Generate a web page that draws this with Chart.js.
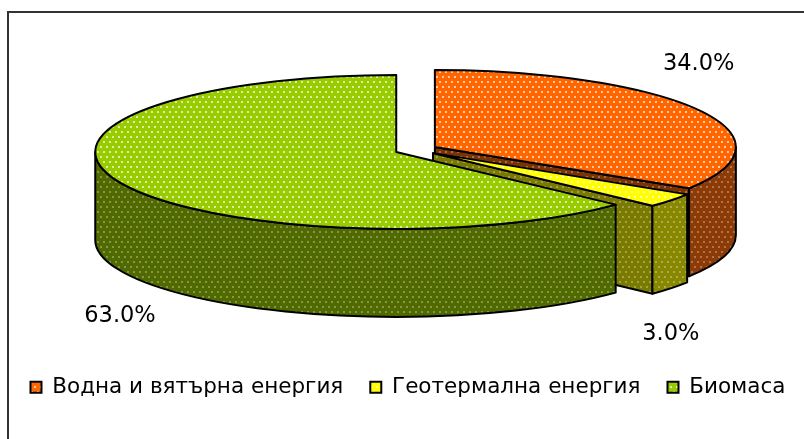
<!DOCTYPE html>
<html>
<head>
<meta charset="utf-8">
<script src="https://cdn.jsdelivr.net/npm/chart.js@4.4.1/dist/chart.umd.min.js"></script>
<style>
  html, body { margin: 0; padding: 0; background: #fff; overflow: hidden; width: 804px; height: 439px; }
  canvas { display: block; }
</style>
</head>
<body>
<!-- a bit wider than the window so the legend fits on one row; right strip is cut off -->
<canvas id="my-chart" width="816" height="439"></canvas>
<script>
// data
let categories = ['Водна и вятърна енергия', 'Геотермална енергия', 'Биомаса'];
let shares = [34.0, 3.0, 63.0];

// colours: top face, outer wall, cut face
let topColors = ['#ff6600', '#ffff00', '#99cc00'];
let wallColors = ['#8c3a06', '#888800', '#506a00'];
let faceColors = ['#7c3304', '#7a7a00', '#476000'];

// dotted fill like the office pattern
function dots(base, dot) {
    let c = document.createElement('canvas');
    c.width = 6;
    c.height = 10;
    let g = c.getContext('2d');
    g.fillStyle = base;
    g.fillRect(0, 0, 6, 10);
    g.fillStyle = dot;
    g.fillRect(1, 1, 2, 2);
    g.fillRect(4, 6, 2, 2);
    return g.createPattern(c, 'repeat');
}

let topFills = topColors.map(c => dots(c, 'rgba(255,255,255,0.65)'));
let wallFills = wallColors.map(c => dots(c, 'rgba(255,255,255,0.3)'));
let faceFills = faceColors.map(c => dots(c, 'rgba(255,255,255,0.3)'));

function shape(ctx, fill, build) {
    ctx.beginPath();
    build();
    ctx.closePath();
    ctx.fillStyle = fill;
    ctx.fill();
    ctx.stroke();
}

// frame round the chart
let frame = {
    id: 'frame',
    beforeDraw(chart) {
        let ctx = chart.ctx;
        ctx.save();
        ctx.strokeStyle = '#333';
        ctx.lineWidth = 2;
        ctx.strokeRect(8, 12, 1000, 1000);
        ctx.restore();
    }
};

// tilted pie drawn from the arcs chart.js lays out
let pie3d = {
    id: 'pie3d',
    beforeDatasetsDraw(chart, args, opts) {
        let ctx = chart.ctx;
        let arcs = chart.getDatasetMeta(0).data;
        let values = chart.data.datasets[0].data;
        let rx = opts.rx, ry = opts.ry, d = opts.depth;
        ctx.save();
        ctx.strokeStyle = '#000';
        ctx.lineWidth = 2;
        ctx.lineJoin = 'round';

        arcs.forEach((arc, i) => {
            let s = arc.startAngle, e = arc.endAngle;
            let mid = (s + e) / 2;
            let frac = arc.options.offset / arc.outerRadius;
            let cx = arc.x + opts.shiftX + Math.cos(mid) * frac * rx;
            let cy = arc.y + opts.shiftY + Math.sin(mid) * frac * ry;
            let px = a => cx + Math.cos(a) * rx;
            let py = a => cy + Math.sin(a) * ry;

            // cut face at the start angle
            if (Math.cos(s) < -1e-6) {
                shape(ctx, faceFills[i], () => {
                    ctx.moveTo(cx, cy);
                    ctx.lineTo(px(s), py(s));
                    ctx.lineTo(px(s), py(s) + d);
                    ctx.lineTo(cx, cy + d);
                });
            }
            // cut face at the end angle
            if (Math.cos(e) > 1e-6) {
                shape(ctx, faceFills[i], () => {
                    ctx.moveTo(cx, cy);
                    ctx.lineTo(px(e), py(e));
                    ctx.lineTo(px(e), py(e) + d);
                    ctx.lineTo(cx, cy + d);
                });
            }
            // outer wall, front half only
            let lo = Math.max(s, 0), hi = Math.min(e, Math.PI);
            if (hi > lo) {
                shape(ctx, wallFills[i], () => {
                    ctx.ellipse(cx, cy, rx, ry, 0, lo, hi);
                    ctx.lineTo(px(hi), py(hi) + d);
                    ctx.ellipse(cx, cy + d, rx, ry, 0, hi, lo, true);
                });
            }
            // top
            shape(ctx, topFills[i], () => {
                ctx.moveTo(cx, cy);
                ctx.ellipse(cx, cy, rx, ry, 0, s, e);
            });

            // percent label outside the slice
            let front = Math.sin(mid) > 0;
            let lx = px(mid);
            let ly = py(mid) + (front ? d + opts.labelGap : -opts.labelGap);
            ctx.fillStyle = '#000';
            ctx.font = opts.labelFont;
            ctx.textAlign = 'center';
            ctx.textBaseline = 'middle';
            ctx.fillText(values[i].toFixed(1) + '%', lx, ly);
        });
        ctx.restore();
        return false;
    }
};

let ctx = document.getElementById('my-chart').getContext('2d');
let energyChart = new Chart(ctx, {
    type: 'pie',
    data: {
        labels: categories,
        datasets: [{
            data: shares,
            backgroundColor: topFills,
            borderColor: '#000',
            borderWidth: 2,
            offset: 12
        }]
    },
    options: {
        responsive: false,
        animation: false,
        devicePixelRatio: 1,
        layout: {
            padding: { left: 0, right: 0, top: 0, bottom: 31 }
        },
        plugins: {
            legend: {
                position: 'bottom',
                labels: {
                    boxWidth: 11,
                    boxHeight: 11,
                    padding: 27,
                    color: '#000',
                    font: { family: 'DejaVu Sans', size: 21.5 }
                }
            },
            tooltip: { enabled: false },
            pie3d: {
                rx: 301,
                ry: 77,
                depth: 88,
                shiftX: 8,
                shiftY: -25,
                labelGap: 46,
                labelFont: '22.5px "DejaVu Sans"'
            }
        }
    },
    plugins: [frame, pie3d]
});
</script>
</body>
</html>
